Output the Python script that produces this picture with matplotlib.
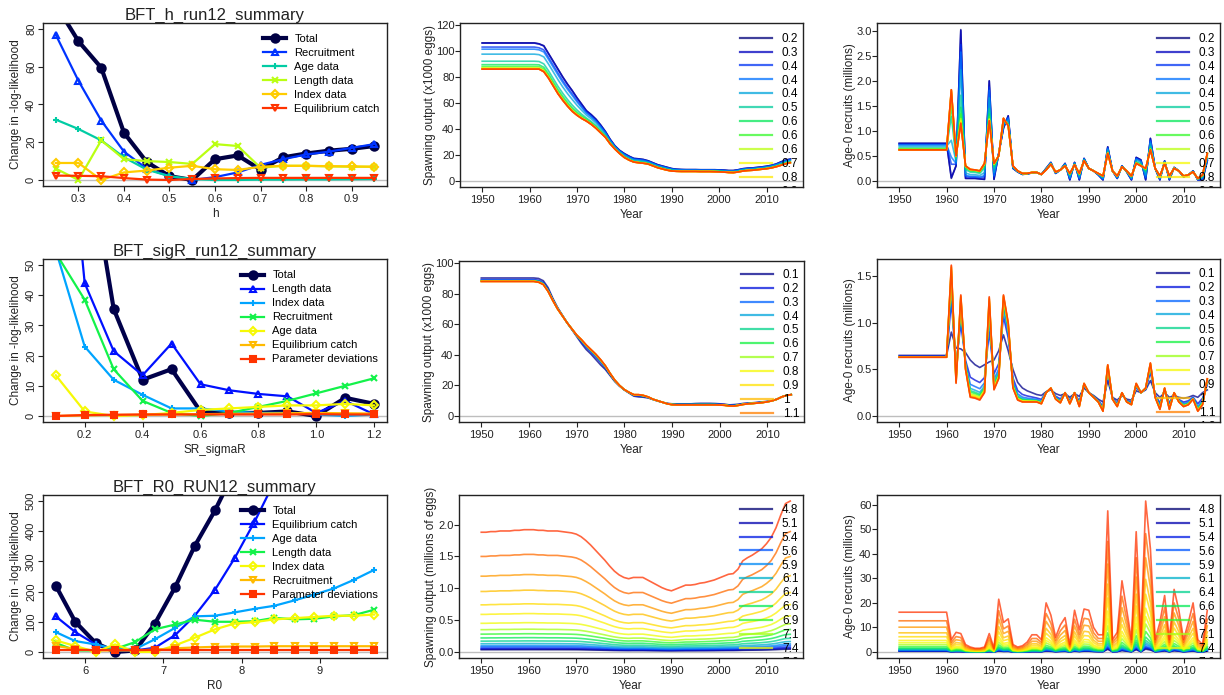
import numpy as np
import matplotlib
matplotlib.use("Agg")
import matplotlib.pyplot as plt
from matplotlib.ticker import FormatStrFormatter

plt.rcParams["font.family"] = ["Liberation Sans", "DejaVu Sans"]

W, H = 1224, 695
nan = np.nan

# ---------------- profile likelihood data ----------------
h_vals = [0.25, 0.30, 0.35, 0.40, 0.45, 0.50, 0.55, 0.60, 0.65, 0.70, 0.75, 0.80, 0.85, 0.90, 0.95]
h_total = [93, 73.5, 59.5, 25, 9.5, 2, 0, 11, 13, 5.5, 12, 14, 15.5, 16.5, 18]
h_recruit = [77, 52.5, 31.5, 15, 6, 2, 0, 1.5, 4, 8, 11, 13.5, 15, 17, 19]
h_age = [32, 27, 21, 12, 5.5, 2, 0.5, 0, 0, 0.2, 0.2, 0.3, 0.3, 0.4, 0.5]
h_length = [6, 0, 21, 11, 10, 9.5, 8.5, 19, 18, 6.5, 7.5, 7.5, 7.2, 7, 7]
h_index = [9, 9, 0, 4, 5, 6.5, 7.5, 5.7, 5.3, 7, 7.5, 7.5, 7.3, 7.2, 7]
h_equil = [2.3, 2.2, 2, 1, 0.2, 0, 0.5, 0.8, 1, 1.1, 1.1, 1.1, 1.1, 1.1, 1.1]
h_labels = ["Total", "Recruitment", "Age data", "Length data", "Index data", "Equilibrium catch"]

sig_vals = [0.1, 0.2, 0.3, 0.4, 0.5, 0.6, 0.7, 0.8, 0.9, 1.0, 1.1, 1.2]
sig_total = [180, 94, 35.5, 12, 15.5, 1.5, 1, 1, 1.5, 0, 6, 4]
sig_length = [143, 44, 21.5, 13.5, 24, 10.5, 8.5, 7.3, 6.5, 1, 5, 0.5]
sig_index = [55, 23, 12, 7, 2.5, 2.5, 1.5, 1, 1, 0.5, 0, 0.5]
sig_recruit = [54, 38.5, 15.5, 5, 1, 0, 1, 3, 5, 7.5, 10, 12.5]
sig_age = [13.5, 1.5, 0, 0.3, 1, 2, 2.5, 3, 3.5, 3.5, 4, 3.5]
sig_equil = [0, 0.2, 0.3, 0.4, 0.5, 0.6, 0.7, 0.8, 0.9, 1.0, 0.9, 0.8]
sig_pardev = [0, 0.3, 0.4, 0.5, 0.5, 0.5, 0.5, 0.5, 0.5, 0.6, 0.5, 0.5]
sig_labels = ["Total", "Length data", "Index data", "Recruitment", "Age data",
              "Equilibrium catch", "Parameter deviations"]

r0_vals = [5.62, 5.87, 6.13, 6.38, 6.64, 6.89, 7.15, 7.40, 7.66, 7.91, 8.17, 8.42, 8.68, 8.93, 9.19, 9.44, 9.70]
r0_total = [220, 100, 30, 0, 5, 94, 215, 351, 469, 600, nan, nan, nan, nan, nan, nan, nan]
r0_equil = [118, 66, 25, 5, 5, 14, 56, 120, 206, 310, 433, 563, nan, nan, nan, nan, nan]
r0_age = [66, 36, 25, 10, 10, 42, 80, 118, 120, 131, 143, 153, 171, 190, 211, 239, 272]
r0_length = [30, 5, 5, 10, 33, 75, 91, 107, 100, 100, 102, 113, 108, 110, 118, 122, 140]
r0_index = [38, 20, 0, 25, 0, 0, 22, 47, 75, 94, 99, 108, 112, 116, 120, 120, 124]
r0_recruit = [20, 10, 5, 5, 5, 8, 12, 15, 17, 18, 18, 19, 19, 19, 19, 19, 19]
r0_pardev = [5, 5, 5, 5, 5, 5, 5, 5, 5, 5, 5, 5, 5, 5, 5, 5, 5]
r0_labels = ["Total", "Equilibrium catch", "Age data", "Length data", "Index data",
             "Recruitment", "Parameter deviations"]

# ---------------- time series data ----------------
years = list(range(1950, 2016))

# h runs: outer runs (lowest h on top, highest h at bottom) and per-run position between them
ssb_h_low = [106.2] * 12 + [
    105.5, 104.0, 98.0, 92.0, 86.0, 80.0, 74.5, 69.5, 64.0, 59.0, 54.0, 51.0, 47.5, 43.0,
    38.0, 32.0, 27.0, 23.5, 21.0, 19.0, 17.3, 17.0, 16.5, 15.5, 14.0, 12.5, 11.5, 10.5,
    9.5, 9.0, 8.8, 8.7, 8.7, 8.7, 8.6, 8.6, 8.6, 8.6, 8.5, 8.3, 8.0, 8.0, 8.6, 9.4,
    9.8, 10.0, 10.4, 10.8, 11.3, 12.0, 13.0, 14.6, 16.0, 16.8]
ssb_h_high = [86.0] * 12 + [
    86.0, 84.0, 79.0, 73.0, 67.0, 62.0, 57.5, 53.5, 50.5, 48.0, 46.0, 43.5, 40.5, 37.0,
    33.5, 28.5, 24.5, 21.0, 18.0, 16.0, 14.5, 14.0, 13.6, 13.0, 11.6, 10.2, 9.2, 8.3,
    7.6, 7.4, 7.3, 7.3, 7.3, 7.3, 7.2, 7.2, 7.2, 7.1, 7.0, 6.8, 6.5, 6.4, 6.9, 7.6,
    8.0, 8.2, 8.6, 9.0, 9.4, 10.0, 10.9, 12.0, 13.2, 14.0]
rec_h_low = [0.75] * 11 + [
    0.05, 0.30, 3.02, 0.05, 0.05, 0.05, 0.04, 0.03, 2.00, 0.03, 0.55, 1.05, 1.30, 0.25,
    0.18, 0.13, 0.14, 0.16, 0.17, 0.13, 0.25, 0.37, 0.15, 0.22, 0.35, 0.02, 0.37, 0.02,
    0.45, 0.25, 0.20, 0.12, 0.02, 0.68, 0.20, 0.05, 0.30, 0.18, 0.02, 0.47, 0.42, 0.02,
    0.85, 0.25, 0.02, 0.40, 0.02, 0.27, 0.20, 0.08, 0.12, 0.20, 0.02, 0.02, 0.40]
rec_h_high = [0.62] * 11 + [
    1.82, 0.50, 1.15, 0.30, 0.23, 0.22, 0.20, 0.35, 1.20, 0.35, 0.50, 1.25, 1.10, 0.30,
    0.20, 0.15, 0.15, 0.17, 0.17, 0.13, 0.22, 0.33, 0.18, 0.22, 0.30, 0.15, 0.32, 0.15,
    0.40, 0.25, 0.20, 0.15, 0.10, 0.55, 0.20, 0.10, 0.28, 0.20, 0.10, 0.35, 0.30, 0.25,
    0.62, 0.25, 0.10, 0.35, 0.10, 0.25, 0.20, 0.10, 0.12, 0.18, 0.05, 0.12, 0.55]
h_run_weight = [1.0, 0.99, 0.84, 0.76, 0.57, 0.30, 0.17, 0.10, 0.05, 0.03, 0.015, 0.005, 0.0, 0.0, 0.0]
h_run_labels = ["0.2", "0.3", "0.4", "0.4", "0.4", "0.5", "0.6", "0.6", "0.6", "0.7", "0.8",
                "0.8", "0.8", "0.9", "0.9"]

# sigmaR runs
ssb_sig_low = [90.3] * 12 + [
    90.0, 88.5, 84.0, 77.0, 71.0, 66.0, 61.0, 56.5, 52.0, 47.5, 43.5, 40.5, 37.0, 33.5,
    30.5, 26.5, 22.5, 19.5, 17.0, 15.0, 13.0, 12.5, 12.3, 11.8, 10.8, 9.8, 9.0, 8.3,
    8.0, 8.0, 8.0, 8.0, 8.0, 8.2, 8.3, 8.3, 8.3, 8.2, 8.0, 7.8, 7.3, 7.5, 7.8, 8.3,
    8.5, 8.7, 9.0, 9.3, 9.6, 10.0, 11.0, 12.5, 13.5, 14.0]
ssb_sig_high = [88.0] * 12 + [
    87.5, 86.0, 81.5, 75.5, 70.0, 65.5, 61.0, 57.0, 53.0, 50.0, 46.5, 43.5, 40.5, 37.0,
    33.0, 28.0, 23.5, 20.0, 17.3, 15.5, 14.0, 14.0, 13.5, 12.5, 11.0, 10.0, 9.0, 8.0,
    7.4, 7.3, 7.3, 7.3, 7.3, 7.3, 7.3, 7.3, 7.3, 7.3, 7.2, 7.0, 6.6, 6.5, 7.0, 7.6,
    8.0, 8.2, 8.5, 8.8, 9.3, 10.0, 11.0, 12.5, 13.5, 14.0]
rec_sig_low = [0.65] * 11 + [
    0.90, 0.73, 0.72, 0.68, 0.60, 0.55, 0.52, 0.55, 0.58, 0.60, 0.70, 0.87, 0.70, 0.50,
    0.36, 0.30, 0.27, 0.25, 0.23, 0.22, 0.26, 0.28, 0.24, 0.22, 0.24, 0.20, 0.24, 0.21,
    0.30, 0.25, 0.22, 0.18, 0.15, 0.38, 0.20, 0.17, 0.22, 0.18, 0.17, 0.27, 0.25, 0.28,
    0.38, 0.25, 0.20, 0.25, 0.20, 0.22, 0.20, 0.19, 0.20, 0.22, 0.20, 0.25, 0.28]
rec_sig_high = [0.63] * 11 + [
    1.62, 0.35, 1.30, 0.50, 0.20, 0.19, 0.17, 0.25, 1.28, 0.28, 0.40, 1.30, 1.00, 0.30,
    0.17, 0.15, 0.15, 0.15, 0.15, 0.13, 0.25, 0.30, 0.18, 0.14, 0.25, 0.13, 0.25, 0.10,
    0.35, 0.25, 0.20, 0.15, 0.05, 0.55, 0.18, 0.10, 0.25, 0.15, 0.12, 0.35, 0.25, 0.30,
    0.57, 0.20, 0.07, 0.30, 0.07, 0.25, 0.15, 0.10, 0.12, 0.18, 0.05, 0.12, 0.40]
sig_run_weight = [1.0, 0.54, 0.35, 0.24, 0.18, 0.14, 0.095, 0.07, 0.04, 0.03, 0.01, 0.0]
sig_run_labels = ["0.1", "0.2", "0.3", "0.4", "0.5", "0.6", "0.7", "0.8", "0.9", "1", "1.1", "1.2"]

# R0 runs: largest run and starting level of every run
ssb_r0_top = [
    1.88, 1.88, 1.89, 1.89, 1.90, 1.90, 1.90, 1.91, 1.91, 1.92, 1.92, 1.92, 1.91, 1.91,
    1.90, 1.90, 1.90, 1.89, 1.88, 1.87, 1.85, 1.81, 1.75, 1.68, 1.60, 1.52, 1.44, 1.35,
    1.27, 1.21, 1.17, 1.15, 1.17, 1.17, 1.17, 1.13, 1.09, 1.05, 1.01, 0.98, 0.96, 0.99,
    1.02, 1.05, 1.05, 1.06, 1.08, 1.09, 1.11, 1.13, 1.16, 1.19, 1.22, 1.23, 1.30, 1.43,
    1.48, 1.52, 1.57, 1.62, 1.70, 1.80, 1.95, 2.15, 2.33, 2.37]
ssb_r0_start = [0.035, 0.045, 0.06, 0.08, 0.10, 0.13, 0.17, 0.22, 0.28, 0.35, 0.45, 0.59,
                0.74, 0.95, 1.19, 1.50, 1.88]
rec_r0_top = [16.2] * 11 + [
    5.0, 8.0, 7.5, 3.0, 2.0, 1.5, 1.5, 2.0, 7.5, 1.5, 21.5, 12.0, 13.5, 3.0,
    2.0, 2.5, 4.0, 7.0, 7.0, 5.0, 20.0, 15.0, 6.0, 11.0, 14.0, 3.0, 17.0, 9.0,
    17.5, 17.0, 10.0, 7.0, 7.0, 57.5, 5.0, 8.0, 29.0, 17.0, 5.0, 49.0, 6.0, 61.5,
    42.0, 5.0, 12.0, 23.0, 5.0, 25.5, 17.0, 5.0, 12.0, 20.0, 5.0, 3.0, 17.0]
rec_r0_start = [0.3, 0.4, 0.5, 0.6, 0.8, 1.0, 1.25, 1.6, 2.2, 3.0, 3.8, 4.7, 6.2, 7.8,
                10.1, 12.7, 16.2]
r0_run_labels = ["4.8", "5.1", "5.4", "5.6", "5.9", "6.1", "6.4", "6.6", "6.9", "7.1", "7.4",
                 "7.6", "7.9", "8.1", "8.4", "8.6", "8.9"]

# legend rows that fit inside the time-series panels (the last one is cut by the frame)
n_legend_rows = 12


def rich_colors_short(n, alpha=1.0):
    # same palette as r4ss::rich.colors.short
    x = np.linspace(0, 1, n)
    r = 1 / (1 + np.exp(20 - 35 * x))
    g = np.clip(-0.8 + 6 * x - 5 * x ** 2, 0, 1)
    b = np.exp(-0.5 * ((x - 0.25) / 0.15) ** 2)
    b = b / b.max()
    return [(r[i], g[i], b[i], alpha) for i in range(n)]


def blend(low, high, weights):
    low, high = np.array(low), np.array(high)
    return [high + w * (low - high) for w in weights]


def scaled(top, starts):
    top = np.array(top)
    return [top * s / starts[-1] for s in starts]


def padded(lo, hi):
    d = 0.04 * (hi - lo)
    return lo - d, hi + d


fig = plt.figure(figsize=(W / 100, H / 100), dpi=100)


def make_axes(l, t, r, b):
    ax = fig.add_axes([l / W, 1 - b / H, (r - l) / W, (b - t) / H])
    for s in ax.spines.values():
        s.set_linewidth(1.0)
        s.set_color("#222222")
    ax.tick_params(direction="out", length=3.5, width=0.8, labelsize=8,
                   colors="#222222", pad=2.5)
    ax.tick_params(axis="y", pad=0.5)
    ax.axhline(0, color="#bebebe", lw=1, zorder=0)
    return ax, r - l, b - t


def set_labels(ax, w, h, xlabel, ylabel, yoff):
    ax.set_xlabel(xlabel, fontsize=8.5, color="#222222")
    ax.set_ylabel(ylabel, fontsize=8.5, color="#222222")
    ax.xaxis.set_label_coords(0.5, -22 / h)
    ax.yaxis.set_label_coords(-yoff / w, 0.5)


def profile_panel(box, x, series, labels, markers, ylim, xticks, yticks, xfmt, xlabel,
                  title, anchor):
    ax, w, h = make_axes(*box)
    cols = rich_colors_short(len(series))
    for i, (y, lab, m) in enumerate(zip(series, labels, markers)):
        lw, ms = (3.0, 6.0) if i == 0 else (1.6, 5.0)
        filled = m in ("o", "s")
        if m == "D":
            ms = 4.2
        ax.plot(x, y, color=cols[i], lw=lw, marker=m, ms=ms, mew=1.5,
                mfc=cols[i] if filled else "none", mec=cols[i], label=lab)
    ax.set_xlim(*padded(min(x), max(x)))
    ax.set_ylim(*padded(*ylim))
    ax.set_xticks(xticks)
    ax.set_yticks(yticks)
    ax.xaxis.set_major_formatter(FormatStrFormatter(xfmt))
    ax.tick_params(axis="y", labelrotation=90, pad=1.5)
    for t in ax.get_yticklabels():
        t.set_va("center")
    set_labels(ax, w, h, xlabel, "Change in -log-likelihood", 21)
    ax.set_title(title, fontsize=12, pad=1.5, color="#222222")
    ax.legend(loc="upper left", bbox_to_anchor=anchor, frameon=False, fontsize=8,
              handlelength=2.1, handletextpad=0.7, labelspacing=0.36, borderpad=0,
              borderaxespad=0)
    return ax


def series_panel(box, runs, labels, ylim, yticks, yfmt, ylabel, yoff, anchor):
    ax, w, h = make_axes(*box)
    cols = rich_colors_short(len(runs) + 1, 0.75)[1:]
    for run, lab, c in zip(runs, labels, cols):
        ax.plot(years, run, color=c, lw=1.2, label=lab)
    ax.set_xlim(*padded(1948, 2015))
    ax.set_ylim(*padded(*ylim))
    ax.set_xticks(range(1950, 2011, 10))
    ax.set_yticks(yticks)
    if yfmt:
        ax.yaxis.set_major_formatter(FormatStrFormatter(yfmt))
    set_labels(ax, w, h, "Year", ylabel, yoff)
    handles, labs = ax.get_legend_handles_labels()
    leg = ax.legend(handles[:n_legend_rows], labs[:n_legend_rows], loc="upper left",
                    bbox_to_anchor=anchor, frameon=False, fontsize=8.5,
                    handlelength=2.7, handletextpad=0.85, labelspacing=0.16, borderpad=0,
                    borderaxespad=0)
    for line in leg.get_lines():
        line.set_linewidth(1.6)
    for art in leg.get_lines() + leg.get_texts():
        art.set_clip_box(ax.bbox)
        art.set_clip_on(True)
    return ax


# ---------------- row 1 : steepness ----------------
profile_panel((43, 23, 387, 186), h_vals,
              [h_total, h_recruit, h_age, h_length, h_index, h_equil], h_labels,
              ["o", "^", "+", "x", "D", "v"], (0, 80),
              [0.3, 0.4, 0.5, 0.6, 0.7, 0.8, 0.9], [0, 20, 40, 60, 80], "%.1f", "h",
              "BFT_h_run12_summary", (0.64, 0.932))
series_panel((460, 23, 803, 187), blend(ssb_h_low, ssb_h_high, h_run_weight), h_run_labels,
             (0, 116.8), range(0, 121, 20), None, "Spawning output (x1000 eggs)", 24,
             (0.816, 0.94))
series_panel((877, 23, 1220, 187), blend(rec_h_low, rec_h_high, h_run_weight), h_run_labels,
             (0, 3.03), [0, 0.5, 1.0, 1.5, 2.0, 2.5, 3.0], "%.1f", "Age-0 recruits (millions)",
             21, (0.816, 0.94))

# ---------------- row 2 : sigmaR ----------------
profile_panel((43, 259, 387, 422), sig_vals,
              [sig_total, sig_length, sig_index, sig_recruit, sig_age, sig_equil, sig_pardev],
              sig_labels, ["o", "^", "+", "x", "D", "v", "s"], (0, 50),
              [0.2, 0.4, 0.6, 0.8, 1.0, 1.2], [0, 10, 20, 30, 40, 50], "%.1f", "SR_sigmaR",
              "BFT_sigR_run12_summary", (0.576, 0.93))
series_panel((459, 261, 804, 422), blend(ssb_sig_low, ssb_sig_high, sig_run_weight),
             sig_run_labels, (0, 97.5), range(0, 101, 20), None,
             "Spawning output (x1000 eggs)", 24, (0.817, 0.951))
series_panel((877, 259, 1220, 422), blend(rec_sig_low, rec_sig_high, sig_run_weight),
             sig_run_labels, (0, 1.62), [0, 0.5, 1.0, 1.5], "%.1f",
             "Age-0 recruits (millions)", 21, (0.816, 0.945))

# ---------------- row 3 : R0 ----------------
profile_panel((43, 495, 387, 658), r0_vals,
              [r0_total, r0_equil, r0_age, r0_length, r0_index, r0_recruit, r0_pardev],
              r0_labels, ["o", "^", "+", "x", "D", "v", "s"], (0, 500),
              [6, 7, 8, 9], range(0, 501, 100), "%d", "R0",
              "BFT_R0_RUN12_summary", (0.576, 0.935))
series_panel((459, 495, 803, 658), scaled(ssb_r0_top, ssb_r0_start), r0_run_labels,
             (0, 2.37), [0, 0.5, 1.0, 1.5, 2.0], "%.1f",
             "Spawning output (millions of eggs)", 22, (0.817, 0.945))
series_panel((877, 495, 1220, 658), scaled(rec_r0_top, rec_r0_start), r0_run_labels,
             (0, 61.5), range(0, 61, 10), None, "Age-0 recruits (millions)", 21,
             (0.816, 0.945))

fig.savefig("out.png", dpi=100)
